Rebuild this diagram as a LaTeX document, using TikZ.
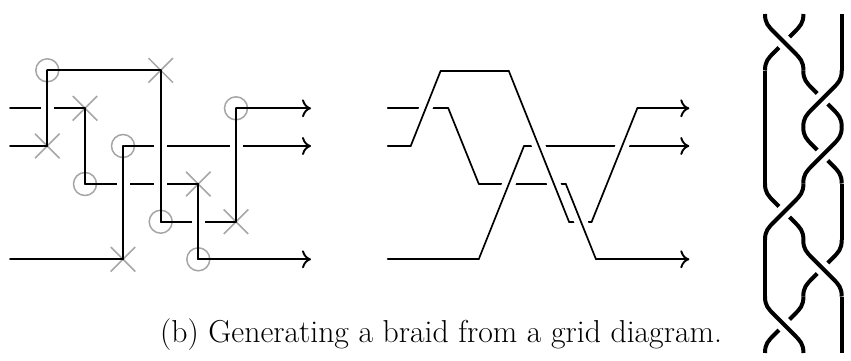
\documentclass[tikz,border=0pt]{standalone}
\usetikzlibrary{arrows.meta,shapes.misc}
\tikzset{
  strand/.style={line width=1.7pt,line cap=round,line join=miter,black},
  arrowstrand/.style={strand,-{Computer Modern Rightarrow[length=9pt,width=18pt,line width=1.9pt]}},
  halo/.style={line width=13pt,white,line cap=butt,shorten >=12.5pt,shorten <=12.5pt},
  ringmark/.style={circle,draw=black!35,line width=1.5pt,minimum size=23pt,inner sep=0pt},
  crossmark/.style={cross out,draw=black!35,line width=1.5pt,minimum size=23pt,inner sep=0pt},
  braidline/.style={line width=4pt,black,line cap=butt},
  braidhalo/.style={line width=14.6pt,white},
  caption/.style={inner sep=0pt,anchor=base west,font=\fontsize{31.7}{34}\selectfont}
}
\newcommand{\brcross}[3]{%
  \begin{scope}[shift={(#1,#2)},xscale=#3]
    \draw[braidline] (38.4,0) .. controls (38.4,9) and (35.4,12) .. (29.2,18.25) -- (9.2,38.25) .. controls (3,44.5) and (0,47.5) .. (0,56.5);
    \draw[braidhalo] (16.2,25.25) -- (22.2,31.25);
    \draw[braidline] (0,0) .. controls (0,9) and (3,12) .. (9.2,18.25) -- (29.2,38.25) .. controls (35.4,44.5) and (38.4,47.5) .. (38.4,56.5);
  \end{scope}}
\begin{document}
\begin{tikzpicture}[x=1pt,y=-1pt]
\useasboundingbox (0,0) rectangle (851,360);
% --- grid diagram
\node[ringmark]  (c1) at (47.3,70.3) {};
\node[crossmark] (x1) at (160.7,70.3) {};
\node[crossmark] (x2) at (85,108.3) {};
\node[ringmark]  (c2) at (236,108.3) {};
\node[crossmark] (x3) at (47.3,146) {};
\node[ringmark]  (c3) at (123,146) {};
\node[ringmark]  (c4) at (85,184) {};
\node[crossmark] (x4) at (198.3,184) {};
\node[ringmark]  (c5) at (160.7,221.7) {};
\node[crossmark] (x5) at (236,221.7) {};
\node[crossmark] (x6) at (123,259.3) {};
\node[ringmark]  (c6) at (198.3,259.3) {};
\coordinate (ls2) at (10,108.3);
\coordinate (ls3) at (10,146);
\coordinate (ls6) at (10,259.3);
\coordinate (le2) at (311,108.3);
\coordinate (le3) at (311,146);
\coordinate (le6) at (311,259.3);
\draw[strand] (ls2) -- (x2.center);
\draw[strand] (ls3) -- (x3.center);
\draw[strand] (ls6) -- (x6.center);
\draw[strand] (c1.center) -- (x1.center);
\draw[strand] (c4.center) -- (x4.center);
\draw[strand] (c5.center) -- (x5.center);
\draw[arrowstrand] (c2.center) -- (le2);
\draw[arrowstrand] (c3.center) -- (le3);
\draw[arrowstrand] (c6.center) -- (le6);
\foreach \a/\b in {x3/c1,x1/c5,x5/c2,x2/c4,x4/c6,x6/c3}{
  \draw[halo] (\a.center) -- (\b.center);
}
\foreach \a/\b in {x3/c1,x1/c5,x5/c2,x2/c4,x4/c6,x6/c3}{
  \draw[strand] (\a.center) -- (\b.center);
}
% --- generated braid
\coordinate (a0) at (387.7,146);
\coordinate (a1) at (410.7,146);
\coordinate (a2) at (440.7,70.7);
\coordinate (a3) at (508.7,70.7);
\coordinate (a4) at (569,221.7);
\coordinate (a5) at (591.7,221.7);
\coordinate (a6) at (637.3,108.3);
\coordinate (a7) at (689.3,108.3);
\coordinate (b0) at (387.7,108.3);
\coordinate (b1) at (448.3,108.3);
\coordinate (b2) at (478.7,183.7);
\coordinate (b3) at (565.7,183.7);
\coordinate (b4) at (596,259.3);
\coordinate (b5) at (689.3,259.3);
\coordinate (d0) at (387.7,259.3);
\coordinate (d1) at (478.7,259.3);
\coordinate (d2) at (524,146);
\coordinate (d3) at (689.3,146);
\draw[strand] (a0) -- (a1);
\draw[strand] (a2) -- (a3);
\draw[strand] (a4) -- (a5);
\draw[arrowstrand] (a6) -- (a7);
\draw[strand] (b0) -- (b1);
\draw[strand] (b2) -- (b3);
\draw[arrowstrand] (b4) -- (b5);
\draw[strand] (d0) -- (d1);
\draw[arrowstrand] (d2) -- (d3);
\foreach \p/\q in {a1/a2,a3/a4,a5/a6,b1/b2,b3/b4,d1/d2}{
  \draw[halo] (\p) -- (\q);
}
\foreach \p/\q in {a1/a2,a3/a4,a5/a6,b1/b2,b3/b4,d1/d2}{
  \draw[strand] (\p) -- (\q);
}
% --- braid
\brcross{765}{14}{1}
\draw[braidline] (841.7,14) -- (841.7,70.5);
\brcross{841.7}{70.5}{-1}
\draw[braidline] (765,70.5) -- (765,127);
\brcross{841.7}{127}{-1}
\draw[braidline] (765,127) -- (765,183.5);
\brcross{803.4}{183.5}{-1}
\draw[braidline] (841.7,183.5) -- (841.7,240);
\brcross{803.3}{240}{1}
\draw[braidline] (765,240) -- (765,296.5);
\brcross{765}{296.5}{1}
\draw[braidline] (841.7,296.5) -- (841.7,353);
% --- caption
\node[caption] (cap) at (160,342) {(b) Generating a braid from a grid diagram.};
\end{tikzpicture}
\end{document}
